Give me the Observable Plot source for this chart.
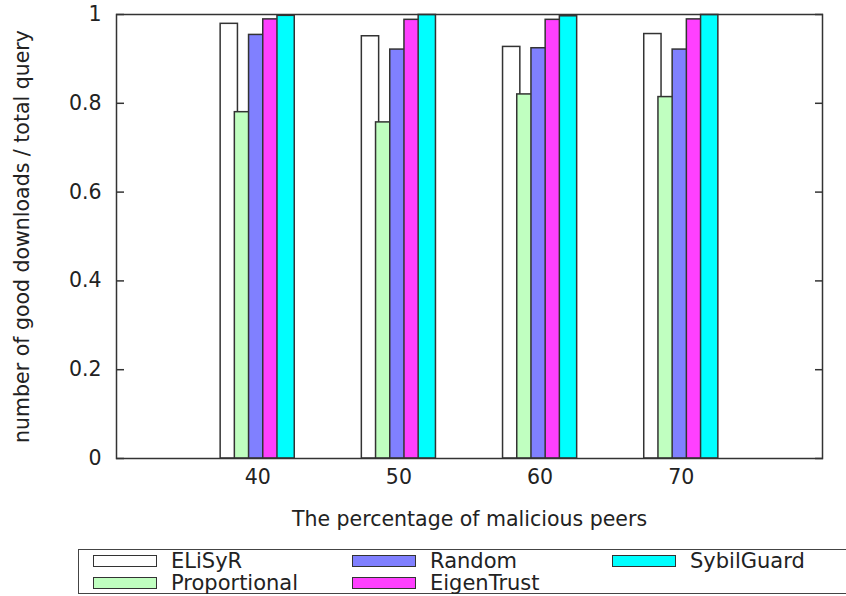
<!DOCTYPE html>
<html>
<head>
<meta charset="utf-8">
<script src="https://cdn.jsdelivr.net/npm/d3@7"></script>
<script src="https://cdn.jsdelivr.net/npm/@observablehq/plot@0.6"></script>
<style>
  html, body { margin: 0; padding: 0; background: #fff; width: 846px; height: 596px; overflow: hidden; }
  body { font-family: "DejaVu Sans", sans-serif; color: #222; }
  #legend { position: relative; margin-left: 78px; width: 800px; height: 43px; border: 1.5px solid #444; margin-top: 3px; }
  .item { position: absolute; font-size: 21px; line-height: 22px; white-space: nowrap; }
  .sw { display: inline-block; width: 62px; height: 10px; border: 1.5px solid #333; vertical-align: middle; margin-right: 14px; position: relative; top: -1px; }
</style>
</head>
<body>
<div id="chart"></div>
<div id="legend"></div>
<script>
const categories = [40, 50, 60, 70];
const seriesNames = ["ELiSyR", "Proportional", "Random", "EigenTrust", "SybilGuard"];
const elisyr = [0.979, 0.951, 0.927, 0.956];
const proportional = [0.780, 0.757, 0.820, 0.814];
const random = [0.954, 0.921, 0.924, 0.921];
const eigentrust = [0.989, 0.988, 0.988, 0.989];
const sybilguard = [0.997, 0.999, 0.996, 0.999];
const colors = ["#ffffff", "#c0ffc0", "#8080ff", "#ff40ff", "#00ffff"];
const yTicks = [0, 0.2, 0.4, 0.6, 0.8, 1];

const seriesValues = [elisyr, proportional, random, eigentrust, sybilguard];
const step = 1.006, barW = 1.225;
const data = [];
seriesValues.forEach((vals, i) => {
  categories.forEach((c, j) => {
    const center = c + (i - 2) * step;
    data.push({series: seriesNames[i], x1: center - barW / 2, x2: center + barW / 2, value: vals[j]});
  });
});

const font = "DejaVu Sans, sans-serif";
const chart = Plot.plot({
  width: 846,
  height: 546,
  marginLeft: 116,
  marginRight: 24,
  marginTop: 14,
  marginBottom: 88,
  style: {fontSize: "20.5px", fontFamily: font, color: "#222", background: "#fff"},
  x: {domain: [30, 80]},
  y: {domain: [0, 1]},
  color: {domain: seriesNames, range: colors},
  marks: [
    Plot.rect(data, {x1: "x1", x2: "x2", y1: 0, y2: "value", fill: "series", stroke: "#333", strokeWidth: 1.5}),
    Plot.frame({stroke: "#333", strokeWidth: 1.5}),
    Plot.axisY({ticks: yTicks, tickFormat: d => String(d), tickSize: 0, tickPadding: 15, fontSize: 20.5,
      label: "number of good downloads / total query", labelAnchor: "center", labelArrow: "none", labelOffset: 102}),
    Plot.axisY({ticks: yTicks, tickSize: -8, text: null, label: null, stroke: "#333", strokeWidth: 1.5}),
    Plot.axisY({anchor: "right", ticks: yTicks, tickSize: -8, text: null, label: null, stroke: "#333", strokeWidth: 1.5}),
    Plot.axisX({ticks: categories, tickFormat: d => String(d), tickSize: 0, tickPadding: 11, fontSize: 20.5,
      label: "The percentage of malicious peers", labelAnchor: "center", labelArrow: "none", labelOffset: 67})
  ]
});
document.getElementById("chart").appendChild(chart);

// legend built from the series arrays: column-major, 2 rows
const legend = document.getElementById("legend");
const colLeft = [14, 273, 533];
seriesNames.forEach((name, i) => {
  const col = Math.floor(i / 2), row = i % 2;
  const item = document.createElement("div");
  item.className = "item";
  item.style.left = colLeft[col] + "px";
  item.style.top = (0 + row * 22) + "px";
  const sw = document.createElement("span");
  sw.className = "sw";
  sw.style.background = colors[i];
  item.appendChild(sw);
  item.appendChild(document.createTextNode(name));
  legend.appendChild(item);
});
</script>
</body>
</html>
